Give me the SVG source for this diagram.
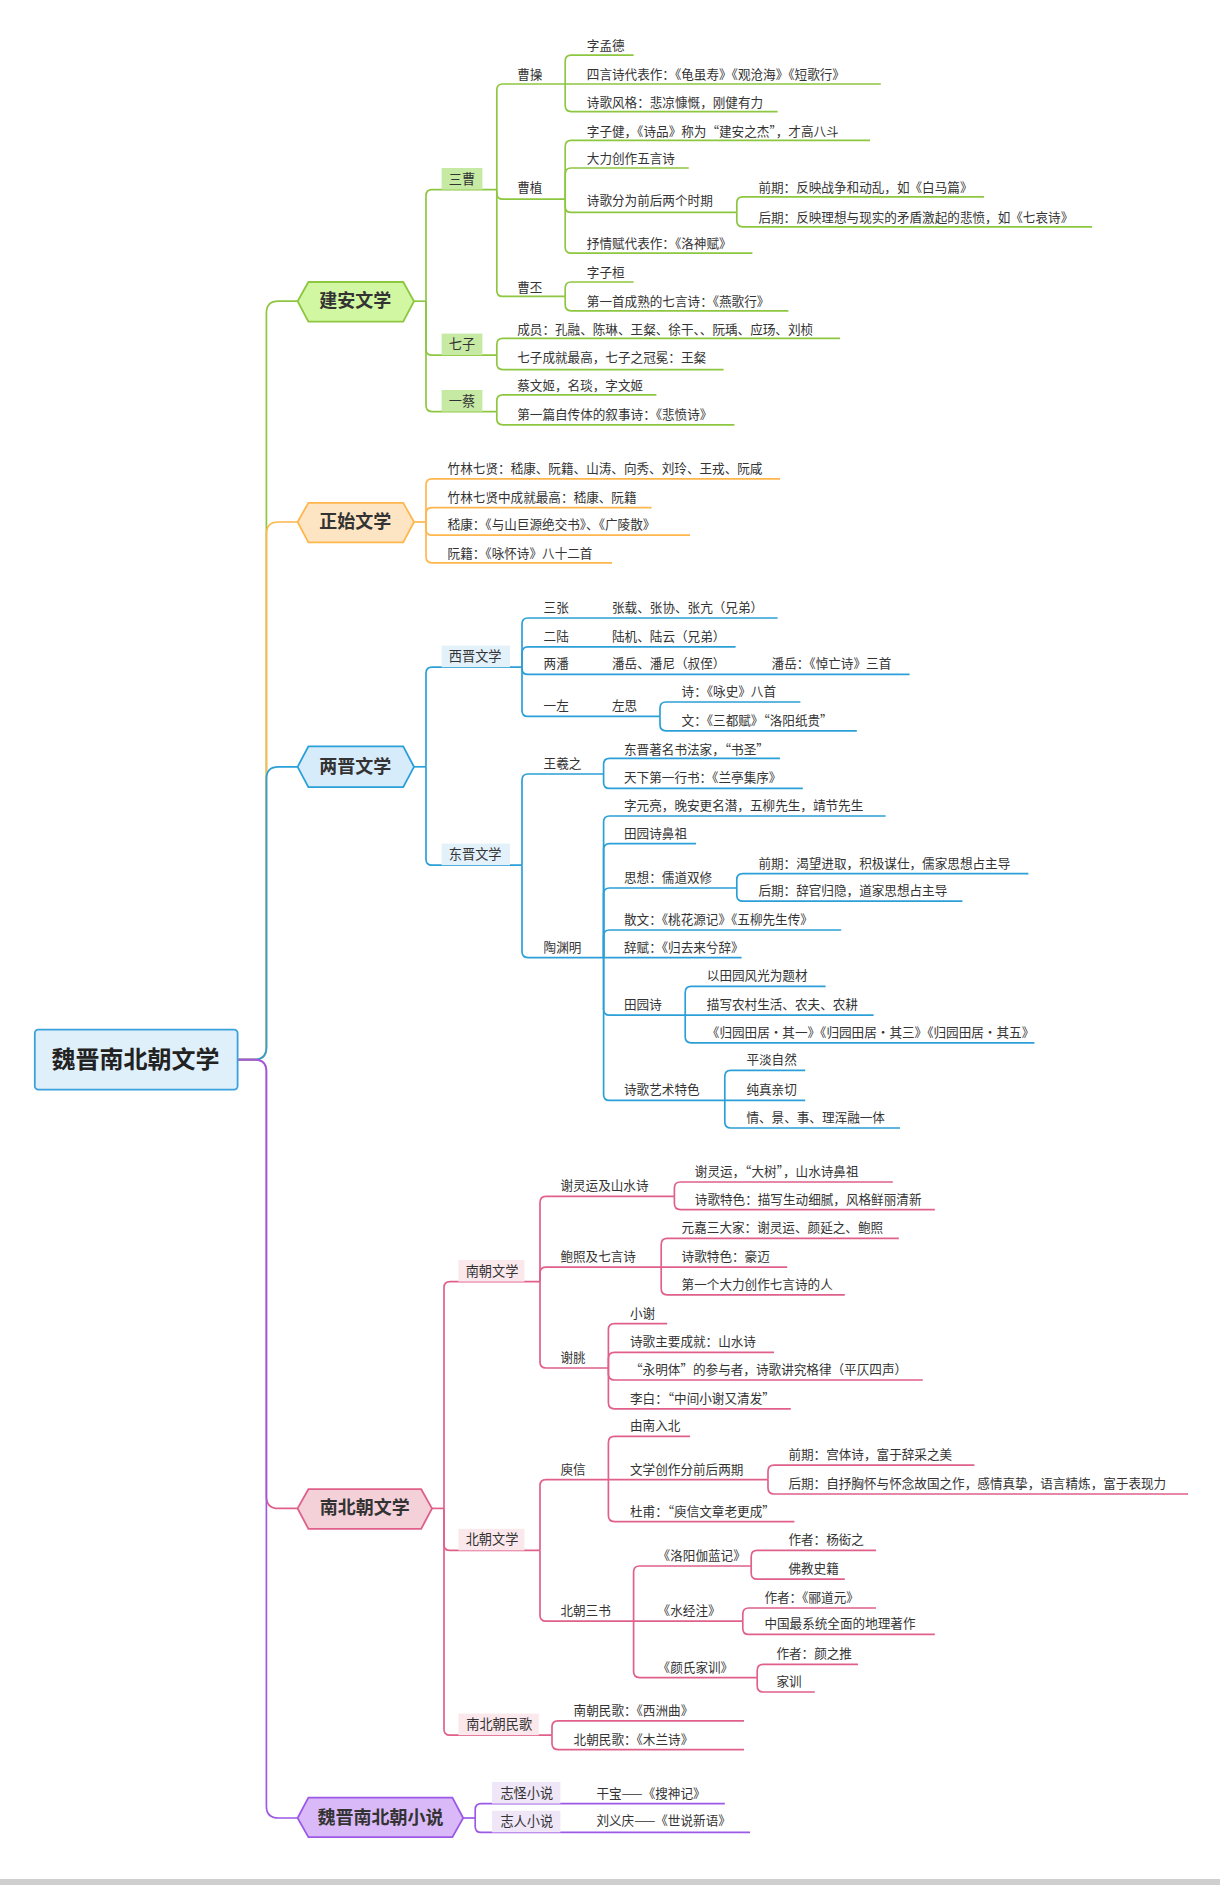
<svg xmlns="http://www.w3.org/2000/svg" width="1220" height="1885" viewBox="0 0 1220 1885">
<style>
text{font-family:"Noto Sans CJK SC","Liberation Sans",sans-serif;font-size:10.5px;fill:#333}
.lab{font-size:11px}
.hx{font-size:15px;font-weight:bold;text-anchor:middle}
.root{font-size:20px;font-weight:bold;text-anchor:middle;fill:#222}
path{fill:none;stroke-width:1.4}
.g{stroke:#8dc63f}.o{stroke:#ffb74d}.b{stroke:#2a9fd8}.p{stroke:#e0608a}.v{stroke:#9b59e6}
.c{text-anchor:middle}
</style>
<rect width="1220" height="1885" fill="#fff"/>
<rect x="0" y="1879" width="1220" height="6" fill="#cfcfcf"/>
<g transform="scale(1.2)">
<g id="connectors">
<path class="g" d="M198 883H212Q222 883 222 873V261Q222 251 232 251H248"/>
<path class="o" d="M198 883H212Q222 883 222 873V445Q222 435 232 435H248"/>
<path class="b" d="M198 883H212Q222 883 222 873V649Q222 639 232 639H248"/>
<path class="p" d="M198 883H212Q222 883 222 893V1247Q222 1257 232 1257H248"/>
<path class="v" d="M198 883H212Q222 883 222 893V1505Q222 1515 232 1515H248"/>
<g class="g">
<path d="M345 251H355"/>
<path d="M355 251V163Q355 158 360 158H414"/>
<path d="M355 251V291Q355 296 360 296H414"/>
<path d="M355 251V338Q355 343 360 343H414"/>
<path d="M414 158V75Q414 70 419 70H471"/>
<path d="M414 158V161Q414 166 419 166H471"/>
<path d="M414 158V242Q414 247 419 247H471"/>
<path d="M471 70V51Q471 46 476 46H528"/>
<path d="M471 70H734"/>
<path d="M471 70V88Q471 93 476 93H648"/>
<path d="M471 166V122Q471 117 476 117H725"/>
<path d="M471 166V145Q471 140 476 140H574"/>
<path d="M471 166V172Q471 177 476 177H614"/>
<path d="M471 166V206Q471 211 476 211H627"/>
<path d="M614 177V169Q614 164 619 164H820"/>
<path d="M614 177V184Q614 189 619 189H910"/>
<path d="M471 247V240Q471 235 476 235H528"/>
<path d="M471 247V254Q471 259 476 259H657"/>
<path d="M414 296V287Q414 282 419 282H700"/>
<path d="M414 296V303Q414 308 419 308H603"/>
<path d="M414 343V334Q414 329 419 329H547"/>
<path d="M414 343V349Q414 354 419 354H612"/>
</g>
<g class="o">
<path d="M345 435H355"/>
<path d="M355 435V404Q355 399 360 399H650"/>
<path d="M355 435V428Q355 423 360 423H543"/>
<path d="M355 435V441Q355 446 360 446H575"/>
<path d="M355 435V464Q355 469 360 469H510"/>
</g>
<g class="b">
<path d="M345 639H355"/>
<path d="M355 639V561Q355 556 360 556H435"/>
<path d="M355 639V716Q355 721 360 721H435"/>
<path d="M435 556V520Q435 515 440 515H490"/>
<path d="M435 556V544Q435 539 440 539H490"/>
<path d="M435 556V557Q435 562 440 562H490"/>
<path d="M435 556V592Q435 597 440 597H490"/>
<path d="M490 515H648"/><path d="M490 539H613"/><path d="M490 562H625"/><path d="M625 562H758"/><path d="M490 597H550"/>
<path d="M550 597V590Q550 585 555 585H667"/>
<path d="M550 597V604Q550 609 555 609H714"/>
<path d="M435 721V650Q435 645 440 645H503"/>
<path d="M435 721V793Q435 798 440 798H503"/>
<path d="M503 645V637Q503 632 508 632H650"/>
<path d="M503 645V652Q503 657 508 657H669"/>
<path d="M503 798V685Q503 680 508 680H738"/>
<path d="M503 798V708Q503 703 508 703H580"/>
<path d="M503 798V745Q503 740 508 740H614"/>
<path d="M503 798V780Q503 775 508 775H701"/>
<path d="M503 798H618"/>
<path d="M503 798V841Q503 846 508 846H571"/>
<path d="M503 798V912Q503 917 508 917H604"/>
<path d="M614 740V733Q614 728 619 728H857"/>
<path d="M614 740V746Q614 751 619 751H802"/>
<path d="M571 846V827Q571 822 576 822H688"/>
<path d="M571 846H728"/>
<path d="M571 846V864Q571 869 576 869H862"/>
<path d="M604 917V897Q604 892 609 892H671"/>
<path d="M604 917H671"/>
<path d="M604 917V935Q604 940 609 940H750"/>
</g>
<g class="p">
<path d="M360 1257H370"/>
<path d="M370 1257V1073Q370 1068 375 1068H450"/>
<path d="M370 1257V1287Q370 1292 375 1292H450"/>
<path d="M370 1257V1441Q370 1446 375 1446H460"/>
<path d="M450 1068V1002Q450 997 455 997H562"/>
<path d="M450 1068V1061Q450 1056 455 1056H551"/>
<path d="M450 1068V1135Q450 1140 455 1140H507"/>
<path d="M562 997V990Q562 985 567 985H744"/>
<path d="M562 997V1003Q562 1008 567 1008H779"/>
<path d="M551 1056V1037Q551 1032 556 1032H749"/>
<path d="M551 1056H656"/>
<path d="M551 1056V1074Q551 1079 556 1079H704"/>
<path d="M507 1140V1108Q507 1103 512 1103H556"/>
<path d="M507 1140V1132Q507 1127 512 1127H645"/>
<path d="M507 1140V1145Q507 1150 512 1150H769"/>
<path d="M507 1140V1169Q507 1174 512 1174H659"/>
<path d="M450 1292V1238Q450 1233 455 1233H507"/>
<path d="M450 1292V1346Q450 1351 455 1351H528"/>
<path d="M507 1233V1202Q507 1197 512 1197H575"/>
<path d="M507 1233H640"/>
<path d="M507 1233V1263Q507 1268 512 1268H662"/>
<path d="M640 1233V1226Q640 1221 645 1221H812"/>
<path d="M640 1233V1240Q640 1245 645 1245H990"/>
<path d="M528 1351V1310Q528 1305 533 1305H626"/>
<path d="M528 1351H619"/>
<path d="M528 1351V1393Q528 1398 533 1398H631"/>
<path d="M626 1305V1297Q626 1292 631 1292H730"/>
<path d="M626 1305V1311Q626 1316 631 1316H704"/>
<path d="M619 1351V1345Q619 1340 624 1340H730"/>
<path d="M619 1351V1357Q619 1362 624 1362H779"/>
<path d="M631 1398V1392Q631 1387 636 1387H715"/>
<path d="M631 1398V1405Q631 1410 636 1410H679"/>
<path d="M460 1446V1439Q460 1434 465 1434H620"/>
<path d="M460 1446V1453Q460 1458 465 1458H620"/>
</g>
<g class="v">
<path d="M386 1515H396"/>
<path d="M396 1515V1508Q396 1503 401 1503H604"/>
<path d="M396 1515V1522Q396 1527 401 1527H625"/>
</g>
</g>
<g id="root"><rect x="29" y="858" width="169" height="50" rx="3" fill="#dff0fb" stroke="#3aa1dc" stroke-width="1.5"/><text class="root" x="113" y="890">魏晋南北朝文学</text></g>
<g id="jianan"><polygon points="248,251 257,235 336,235 345,251 336,268 257,268" fill="#d2f7a2" stroke="#8dc63f" stroke-width="1.5"/><text class="hx" x="296" y="256">建安文学</text></g>
<g id="zhengshi"><polygon points="248,435 257,419 336,419 345,435 336,452 257,452" fill="#fde5c4" stroke="#ffb74d" stroke-width="1.5"/><text class="hx" x="296" y="440">正始文学</text></g>
<g id="liangjin"><polygon points="248,639 257,622 336,622 345,639 336,656 257,656" fill="#d7ecfb" stroke="#2a9fd8" stroke-width="1.5"/><text class="hx" x="296" y="644">两晋文学</text></g>
<g id="nanbei"><polygon points="248,1257 257,1241 351,1241 360,1257 351,1274 257,1274" fill="#f4d0d9" stroke="#e0608a" stroke-width="1.5"/><text class="hx" x="304" y="1262">南北朝文学</text></g>
<g id="xiaoshuo"><polygon points="248,1515 257,1498 377,1498 386,1515 377,1531 257,1531" fill="#dab9f8" stroke="#9b59e6" stroke-width="1.5"/><text class="hx" x="317" y="1520">魏晋南北朝小说</text></g>
<g id="labels">
<rect x="368" y="140" width="34" height="18" fill="#c6e9a4"/><text class="lab c" x="385" y="153">三曹</text>
<rect x="368" y="278" width="34" height="18" fill="#c6e9a4"/><text class="lab c" x="385" y="291">七子</text>
<rect x="368" y="325" width="34" height="18" fill="#c6e9a4"/><text class="lab c" x="385" y="338">一蔡</text>
<rect x="368" y="538" width="57" height="18" fill="#e3f1fb"/><text class="lab c" x="396" y="551">西晋文学</text>
<rect x="368" y="703" width="57" height="18" fill="#e3f1fb"/><text class="lab c" x="396" y="716">东晋文学</text>
<rect x="382" y="1050" width="55" height="18" fill="#fbe8ec"/><text class="lab c" x="410" y="1063">南朝文学</text>
<rect x="382" y="1274" width="55" height="18" fill="#fbe8ec"/><text class="lab c" x="410" y="1287">北朝文学</text>
<rect x="382" y="1428" width="67" height="18" fill="#fbe8ec"/><text class="lab c" x="416" y="1441">南北朝民歌</text>
<rect x="410" y="1485" width="57" height="18" fill="#efe6f7"/><text class="lab c" x="439" y="1498">志怪小说</text>
<rect x="410" y="1509" width="57" height="18" fill="#efe6f7"/><text class="lab c" x="439" y="1522">志人小说</text>
</g>
<g id="texts">
<text x="431" y="66">曹操</text>
<text x="489" y="42">字孟德</text>
<text x="489" y="66">四言诗代表作：《龟虽寿》《观沧海》《短歌行》</text>
<text x="489" y="89">诗歌风格：悲凉慷慨，刚健有力</text>
<text x="431" y="160">曹植</text>
<text x="489" y="113">字子健，《诗品》称为“建安之杰”，才高八斗</text>
<text x="489" y="136">大力创作五言诗</text>
<text x="489" y="171">诗歌分为前后两个时期</text>
<text x="632" y="160">前期：反映战争和动乱，如《白马篇》</text>
<text x="632" y="185">后期：反映理想与现实的矛盾激起的悲愤，如《七哀诗》</text>
<text x="489" y="207">抒情赋代表作：《洛神赋》</text>
<text x="431" y="243">曹丕</text>
<text x="489" y="231">字子桓</text>
<text x="489" y="255">第一首成熟的七言诗：《燕歌行》</text>
<text x="431" y="278">成员：孔融、陈琳、王粲、徐干、、阮瑀、应玚、刘桢</text>
<text x="431" y="302">七子成就最高，七子之冠冕：王粲</text>
<text x="431" y="325">蔡文姬，名琰，字文姬</text>
<text x="431" y="349">第一篇自传体的叙事诗：《悲愤诗》</text>
<text x="373" y="394">竹林七贤：嵇康、阮籍、山涛、向秀、刘玲、王戎、阮咸</text>
<text x="373" y="418">竹林七贤中成就最高：嵇康、阮籍</text>
<text x="373" y="441">嵇康：《与山巨源绝交书》、《广陵散》</text>
<text x="373" y="465">阮籍：《咏怀诗》八十二首</text>
<text x="453" y="510">三张</text><text x="510" y="510">张载、张协、张亢（兄弟）</text>
<text x="453" y="534">二陆</text><text x="510" y="534">陆机、陆云（兄弟）</text>
<text x="453" y="557">两潘</text><text x="510" y="557">潘岳、潘尼（叔侄）</text><text x="643" y="557">潘岳：《悼亡诗》三首</text>
<text x="453" y="592">一左</text><text x="510" y="592">左思</text>
<text x="568" y="580">诗：《咏史》八首</text>
<text x="568" y="604">文：《三都赋》“洛阳纸贵”</text>
<text x="453" y="640">王羲之</text>
<text x="520" y="628">东晋著名书法家，“书圣”</text>
<text x="520" y="652">天下第一行书：《兰亭集序》</text>
<text x="453" y="793">陶渊明</text>
<text x="520" y="675">字元亮，晚安更名潜，五柳先生，靖节先生</text>
<text x="520" y="698">田园诗鼻祖</text>
<text x="520" y="735">思想：儒道双修</text>
<text x="632" y="723">前期：渴望进取，积极谋仕，儒家思想占主导</text>
<text x="632" y="746">后期：辞官归隐，道家思想占主导</text>
<text x="520" y="770">散文：《桃花源记》《五柳先生传》</text>
<text x="520" y="793">辞赋：《归去来兮辞》</text>
<text x="520" y="841">田园诗</text>
<text x="589" y="817">以田园风光为题材</text>
<text x="589" y="841">描写农村生活、农夫、农耕</text>
<text x="589" y="864">《归园田居·其一》《归园田居·其三》《归园田居·其五》</text>
<text x="520" y="912">诗歌艺术特色</text>
<text x="622" y="887">平淡自然</text>
<text x="622" y="912">纯真亲切</text>
<text x="622" y="935">情、景、事、理浑融一体</text>
<text x="467" y="992">谢灵运及山水诗</text>
<text x="579" y="980">谢灵运，“大树”，山水诗鼻祖</text>
<text x="579" y="1003">诗歌特色：描写生动细腻，风格鲜丽清新</text>
<text x="467" y="1051">鲍照及七言诗</text>
<text x="568" y="1027">元嘉三大家：谢灵运、颜延之、鲍照</text>
<text x="568" y="1051">诗歌特色：豪迈</text>
<text x="568" y="1074">第一个大力创作七言诗的人</text>
<text x="467" y="1135">谢朓</text>
<text x="525" y="1098">小谢</text>
<text x="525" y="1122">诗歌主要成就：山水诗</text>
<text x="525" y="1145">“永明体”的参与者，诗歌讲究格律（平仄四声）</text>
<text x="525" y="1169">李白：“中间小谢又清发”</text>
<text x="467" y="1228">庾信</text>
<text x="525" y="1192">由南入北</text>
<text x="525" y="1228">文学创作分前后两期</text>
<text x="657" y="1216">前期：宫体诗，富于辞采之美</text>
<text x="657" y="1240">后期：自抒胸怀与怀念故国之作，感情真挚，语言精炼，富于表现力</text>
<text x="525" y="1263">杜甫：“庾信文章老更成”</text>
<text x="467" y="1346">北朝三书</text>
<text x="548" y="1300">《洛阳伽蓝记》</text>
<text x="657" y="1287">作者：杨衒之</text>
<text x="657" y="1311">佛教史籍</text>
<text x="548" y="1346">《水经注》</text>
<text x="637" y="1335">作者：《郦道元》</text>
<text x="637" y="1357">中国最系统全面的地理著作</text>
<text x="548" y="1393">《颜氏家训》</text>
<text x="647" y="1382">作者：颜之推</text>
<text x="647" y="1405">家训</text>
<text x="478" y="1429">南朝民歌：《西洲曲》</text>
<text x="478" y="1453">北朝民歌：《木兰诗》</text>
<text x="497" y="1498">干宝——《搜神记》</text>
<text x="497" y="1521">刘义庆——《世说新语》</text>
</g>
</g>
</svg>
